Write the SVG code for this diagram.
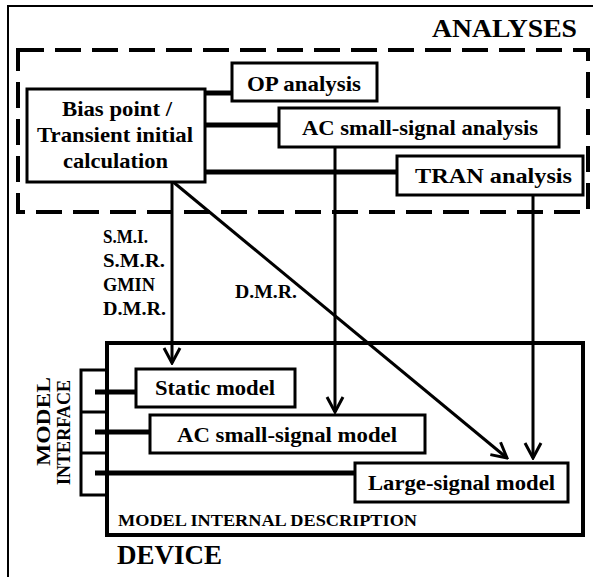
<svg xmlns="http://www.w3.org/2000/svg" width="593" height="577" viewBox="0 0 593 577">
<defs>
<marker id="arr" viewBox="-16 -10 18 20" refX="0" refY="0" markerWidth="18" markerHeight="20" markerUnits="userSpaceOnUse" orient="auto">
<path d="M-15,-8 L0,0 L-15,8" fill="none" stroke="#000" stroke-width="3"/>
</marker>
</defs>
<style>
.box{fill:#fff;stroke:#000;stroke-width:3}
.thick{stroke:#000;stroke-width:5;fill:none}
.conn{stroke:#000;stroke-width:3;fill:none}
</style>
<rect width="593" height="577" fill="#fff"/>
<path d="M8,577 V6 H593" fill="none" stroke="#000" stroke-width="2"/>
<g font-family="'Liberation Serif', 'Times New Roman', serif" font-weight="bold" fill="#000">
<g id="analyses">
<rect x="18" y="50" width="570" height="162" fill="none" stroke="#000" stroke-width="4" stroke-dasharray="26 11"/>
<text x="432" y="37" font-size="26" textLength="145" lengthAdjust="spacingAndGlyphs">ANALYSES</text>
</g>
<g id="connectors">
<line class="thick" x1="205" y1="93" x2="232" y2="93"/>
<line class="thick" x1="205" y1="125" x2="279" y2="125"/>
<line class="thick" x1="205" y1="172" x2="397" y2="172"/>
<line class="conn" x1="172" y1="181" x2="172" y2="363" marker-end="url(#arr)"/>
<line class="conn" x1="172" y1="181" x2="507" y2="458" marker-end="url(#arr)"/>
<line class="conn" x1="335" y1="147" x2="335" y2="412" marker-end="url(#arr)"/>
<line class="conn" x1="533" y1="195" x2="533" y2="458" marker-end="url(#arr)"/>
<path class="conn" d="M107,370 H81 V495 H107 M81,412 H107 M81,453 H107"/>
<line class="thick" x1="95" y1="392" x2="136" y2="392"/>
<line class="thick" x1="95" y1="432" x2="150" y2="432"/>
<line class="thick" x1="95" y1="473" x2="355" y2="473"/>
<text x="103" y="243" font-size="18" textLength="45" lengthAdjust="spacingAndGlyphs">S.M.I.</text>
<text x="103" y="267" font-size="18" textLength="62" lengthAdjust="spacingAndGlyphs">S.M.R.</text>
<text x="103" y="291" font-size="18" textLength="52" lengthAdjust="spacingAndGlyphs">GMIN</text>
<text x="103" y="315" font-size="18" textLength="63" lengthAdjust="spacingAndGlyphs">D.M.R.</text>
<text x="235" y="298" font-size="18" textLength="62" lengthAdjust="spacingAndGlyphs">D.M.R.</text>
</g>
<g id="bias">
<rect class="box" x="27" y="89" width="178" height="93"/>
<text x="62" y="116" font-size="22" textLength="110" lengthAdjust="spacingAndGlyphs">Bias point /</text>
<text x="37" y="142" font-size="22" textLength="156" lengthAdjust="spacingAndGlyphs">Transient initial</text>
<text x="63" y="168" font-size="22" textLength="105" lengthAdjust="spacingAndGlyphs">calculation</text>
</g>
<g id="op">
<rect class="box" x="232" y="63" width="145" height="38"/>
<text x="247" y="91" font-size="21" textLength="114" lengthAdjust="spacingAndGlyphs">OP analysis</text>
</g>
<g id="ac-analysis">
<rect class="box" x="279" y="108" width="280" height="39"/>
<text x="302" y="135" font-size="21" textLength="236" lengthAdjust="spacingAndGlyphs">AC small-signal analysis</text>
</g>
<g id="tran">
<rect class="box" x="397" y="156" width="186" height="39"/>
<text x="415" y="183" font-size="21" textLength="157" lengthAdjust="spacingAndGlyphs">TRAN analysis</text>
</g>
<g id="device">
<rect x="107" y="343" width="476" height="192" fill="none" stroke="#000" stroke-width="4"/>
<text x="118" y="526" font-size="17" textLength="299" lengthAdjust="spacingAndGlyphs">MODEL INTERNAL DESCRIPTION</text>
<text x="117" y="564" font-size="27" textLength="105" lengthAdjust="spacingAndGlyphs">DEVICE</text>
</g>
<g id="interface">
<text transform="translate(50,421.5) rotate(-90)" text-anchor="middle" font-size="19" textLength="89" lengthAdjust="spacingAndGlyphs">MODEL</text>
<text transform="translate(70,432.5) rotate(-90)" text-anchor="middle" font-size="19" textLength="105" lengthAdjust="spacingAndGlyphs">INTERFACE</text>
</g>
<g id="static">
<rect class="box" x="136" y="369" width="159" height="38"/>
<text x="155" y="395" font-size="21" textLength="120" lengthAdjust="spacingAndGlyphs">Static model</text>
</g>
<g id="ac-model">
<rect class="box" x="150" y="415" width="275" height="38"/>
<text x="177" y="442" font-size="21" textLength="220" lengthAdjust="spacingAndGlyphs">AC small-signal model</text>
</g>
<g id="large">
<rect class="box" x="355" y="463" width="213" height="39"/>
<text x="368" y="490" font-size="21" textLength="187" lengthAdjust="spacingAndGlyphs">Large-signal model</text>
</g>
</g>
</svg>
